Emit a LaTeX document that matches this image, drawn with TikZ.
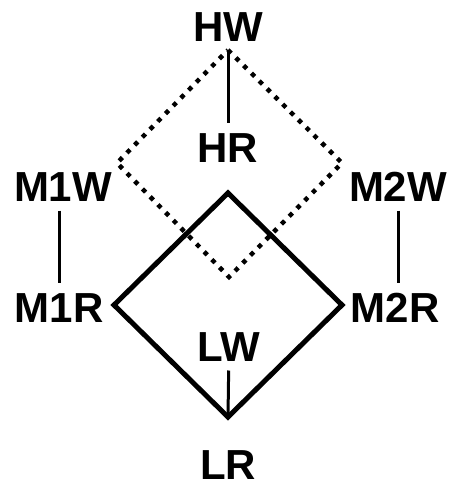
\documentclass[tikz,border=0pt]{standalone}
\usepackage{fontspec}
\setmainfont{Liberation Sans}
\usetikzlibrary{positioning}

\begin{document}
\begin{tikzpicture}[
    x=1pt, y=-1pt,
    level/.style={
        font=\bfseries\fontsize{42}{42}\selectfont,
        inner sep=0pt,
        outer sep=9.5pt,
        text height=30pt,
        text depth=0pt
    },
    tie/.style={line width=3pt},
    dotline/.style={line width=4.5pt, dash pattern=on 4.5pt off 6.5pt},
    solidline/.style={line width=5pt, line join=miter}
]
\useasboundingbox (0,0) rectangle (450,483);

% corners of the two lattices
\coordinate (dtop) at (228,50);
\coordinate (dleft) at (117,163);
\coordinate (dright) at (342,163);
\coordinate (dbottom) at (229,277);

\coordinate (stop) at (228,193);
\coordinate (sleft) at (114,305);
\coordinate (sright) at (342,305);
\coordinate (sbottom) at (228,417);

% labels
\node[level] (hw) at (228,26) {HW};
\node[level] (hr) at (228,147) {HR};
\node[level] (m1w) at (63,186) {M1W};
\node[level] (m1r) at (59,307) {M1R};
\node[level] (m2w) at (398,186) {M2W};
\node[level] (m2r) at (395,307) {M2R};
\node[level] (lw) at (229,346) {LW};
\node[level, outer sep=0pt] (lr) at (228,464) {LR};

% lattices
\draw[dotline] (dtop) -- (dright) -- (dbottom) -- (dleft) -- cycle;
\draw[solidline] (stop) -- (sright) -- (sbottom) -- (sleft) -- cycle;

% write/read ties
\draw[tie] (dtop) -- (hr);
\draw[tie] (m1r |- m1w.south) -- (m1r.north);
\draw[tie] (m2w.south) -- (m2w |- m2r.north);
\draw[tie] (lw) -- (sbottom);
\end{tikzpicture}
\end{document}
